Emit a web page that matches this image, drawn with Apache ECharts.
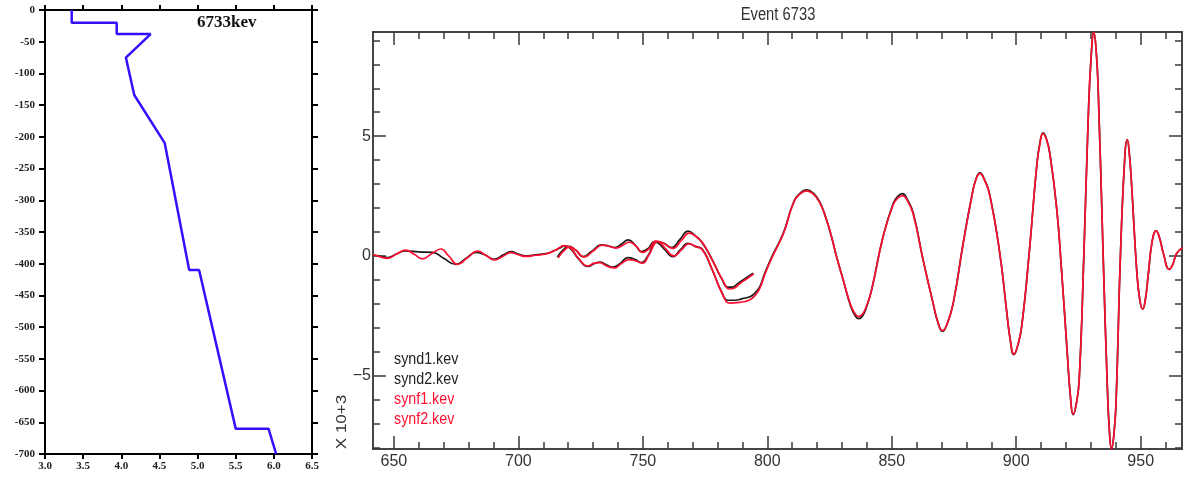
<!DOCTYPE html>
<html>
<head>
<meta charset="utf-8">
<script src="https://cdn.jsdelivr.net/npm/echarts@6/dist/echarts.min.js"></script>
<style>
html,body{margin:0;padding:0;background:#fff;}
#c{width:1183px;height:477px;}
</style>
</head>
<body>
<div id="c"></div>
<script>
// ---------- Left panel: velocity profile ----------
const profileVel   = [3.35, 3.35, 3.94, 3.94, 4.385, 4.06, 4.17, 4.57, 4.89, 5.02, 5.50, 5.93, 6.03];
const profileDepth = [0,   -20,  -20,  -38,  -38,   -75,  -134, -210, -410, -410, -660, -660, -700];
const profileTitle = '6733kev';
const velTicks = [3.0, 3.5, 4.0, 4.5, 5.0, 5.5, 6.0, 6.5];

// ---------- Right panel: seismograms ----------
const traceTitle = 'Event 6733';
const traceNames = ['synd1.kev', 'synd2.kev', 'synf1.kev', 'synf2.kev'];
const traceColors = ['#1a1a1a', '#1a1a1a', '#ff1030', '#ff1030'];
const timeLabels = [650, 700, 750, 800, 850, 900, 950];
const ampLabels = [-5, 0, 5];
const ampUnit = 'X 10+3';

const synd1 = [[641.6,0.04],[644,0.0],[647.5,-0.07],[651,0.08],[654.8,0.21],[660,0.17],[665.5,0.15],[670,-0.1],[674.9,-0.35],[679,-0.1],[683,0.15],[686.5,0.05],[690.4,-0.14],[694,0.05],[697,0.18],[700,0.08],[703,0.0],[707,0.05],[711,0.1],[714,0.2],[716.5,0.32],[718.6,0.42],[721,0.3],[724,-0.1],[728,-0.44],[730.5,-0.32],[732.7,-0.26],[735.5,-0.38],[738,-0.47],[741,-0.3],[744,-0.07],[747,-0.15],[749.4,-0.28],[752,0.0],[755.5,0.57],[758.5,0.3],[762.1,-0.03],[765,0.25],[768.2,0.53],[771,0.4],[773.5,0.32],[777.6,-0.51],[781.6,-1.49],[784.2,-1.85],[787,-1.85],[790,-1.78],[793,-1.7],[795,-1.55],[797,-1.28],[799,-0.72],[802,0.0],[806.4,0.94],[810.4,2.2],[813,2.6],[815.8,2.76],[818.5,2.62],[821.1,2.25],[823.5,1.6],[825.8,0.8],[828,-0.1],[830.5,-1.0],[833.5,-2.1],[835.3,-2.5],[836.8,-2.62],[838.3,-2.5],[839.8,-2.15],[841.9,-1.42],[846.5,0.8],[850.6,2.2],[852.5,2.5],[854.3,2.6],[856.3,2.35],[858.6,1.8],[862.6,-0.17],[866.6,-1.97],[868.6,-2.8],[870.4,-3.15],[872.4,-2.8],[874.7,-1.97],[878.7,0.53],[882.1,2.47],[883.8,3.2],[885.4,3.47],[887.2,3.2],[889.4,2.55],[893.4,0.11],[896.1,-2.25],[897.6,-3.5],[899.1,-4.12],[900.6,-3.75],[902.2,-2.94],[905.2,0.11],[908.2,3.72],[909.5,4.7],[910.8,5.14],[912.1,4.9],[913.5,4.28],[916.2,2.05],[918.2,-0.58],[920.5,-4.05],[921.8,-5.9],[922.9,-6.63],[924.1,-6.2],[925.3,-5.17],[927.2,0.11],[928.9,5.67],[930.1,8.3],[931.2,9.3],[932.1,8.6],[932.9,7.05],[934.9,0.11],[936.6,-5.44],[937.5,-7.4],[938.3,-8.05],[939.2,-7.5],[940.1,-6.14],[941.9,0.11],[943.7,4.28],[944.6,4.86],[945.5,4.2],[946.4,2.89],[948.4,-0.58],[949.6,-1.8],[950.8,-2.22],[951.9,-1.8],[953.1,-0.72],[954.6,0.6],[956.2,1.05],[957.6,0.75],[959.1,0.11],[961.5,-0.56],[962.9,-0.35],[964.5,0.11],[967,0.35]];

const synd2 = [[715.7,-0.05],[718,0.25],[720.3,0.4],[723,0.25],[726,-0.03],[729.5,0.2],[733.4,0.46],[736,0.42],[738.8,0.35],[741.5,0.5],[744.1,0.67],[747,0.45],[749.4,0.18],[752,0.3],[754.8,0.6],[758,0.55],[761.5,0.35],[765,0.7],[768.2,1.04],[771,0.85],[773.5,0.6],[777.6,-0.1],[781.6,-0.93],[784.2,-1.3],[786,-1.3],[788.3,-1.14],[791,-0.95],[794.3,-0.72]];

const synf1 = [[641.6,0.06],[644,-0.02],[647.5,-0.1],[651,0.08],[654.8,0.24],[658,0.08],[661.5,-0.12],[665,0.08],[668.9,0.29],[672,0.0],[675.6,-0.35],[679.5,-0.08],[683.6,0.2],[687,0.02],[690.4,-0.17],[694,0.0],[697,0.14],[700,0.05],[703,-0.02],[707,0.03],[711,0.08],[715,0.25],[718.5,0.43],[721,0.33],[724,-0.08],[728,-0.42],[730.5,-0.3],[732.7,-0.28],[735.5,-0.42],[738.5,-0.5],[741,-0.35],[744.5,-0.15],[747,-0.2],[749.8,-0.3],[752.5,0.05],[756,0.6],[759,0.32],[762.5,0.0],[765.5,0.25],[768.5,0.5],[771.5,0.38],[774,0.25],[778,-0.6],[782,-1.6],[785,-1.97],[788,-1.95],[791,-1.9],[793.5,-1.8],[795.5,-1.6],[797.3,-1.28],[799.2,-0.72],[802.2,0.0],[806.5,0.94],[810.4,2.18],[813,2.57],[815.8,2.72],[818.5,2.58],[821.1,2.22],[823.5,1.6],[825.8,0.8],[828,-0.1],[830.5,-1.0],[833.5,-2.05],[835.3,-2.42],[836.8,-2.53],[838.3,-2.42],[839.8,-2.1],[841.9,-1.42],[846.5,0.8],[850.6,2.15],[852.5,2.42],[854.3,2.52],[856.3,2.3],[858.6,1.75],[862.6,-0.17],[866.6,-1.97],[868.6,-2.78],[870.4,-3.12],[872.4,-2.78],[874.7,-1.97],[878.7,0.53],[882.1,2.45],[883.8,3.18],[885.4,3.44],[887.2,3.18],[889.4,2.52],[893.4,0.11],[896.1,-2.25],[897.6,-3.5],[899.1,-4.1],[900.6,-3.73],[902.2,-2.94],[905.2,0.11],[908.2,3.72],[909.5,4.68],[910.8,5.11],[912.1,4.88],[913.5,4.28],[916.2,2.05],[918.2,-0.58],[920.5,-4.05],[921.8,-5.88],[922.9,-6.6],[924.1,-6.2],[925.3,-5.17],[927.2,0.11],[928.9,5.67],[930.1,8.35],[931.2,9.35],[932.1,8.6],[932.9,7.05],[934.9,0.11],[936.6,-5.44],[937.5,-7.42],[938.3,-8.08],[939.2,-7.5],[940.1,-6.14],[941.9,0.11],[943.7,4.28],[944.6,4.86],[945.5,4.2],[946.4,2.89],[948.4,-0.58],[949.6,-1.8],[950.8,-2.22],[951.9,-1.8],[953.1,-0.72],[954.6,0.6],[956.2,1.05],[957.6,0.75],[959.1,0.11],[961.5,-0.56],[962.9,-0.35],[964.5,0.11],[967,0.35]];

const synf2 = [[716,-0.08],[718.3,0.22],[720.6,0.38],[723.3,0.22],[726.4,-0.05],[730,0.2],[733.8,0.45],[736.5,0.4],[739.2,0.33],[742,0.45],[744.6,0.58],[747.4,0.4],[749.8,0.15],[752.5,0.3],[755.3,0.62],[758.5,0.52],[762,0.32],[765.5,0.65],[768.6,0.95],[771.5,0.8],[774,0.55],[778,-0.2],[782,-1.0],[784.8,-1.38],[786.6,-1.35],[789,-1.15],[791.5,-0.97],[794.6,-0.75]];

const traces = [synd1, synd2, synf1, synf2];

// ---------- build ----------
const SANS = "'Liberation Sans',Arial,sans-serif";
const SERIF = "'Liberation Serif','DejaVu Serif',serif";
const X0 = 641.6, X1 = 966.6, Y0 = -8.06, Y1 = 9.35;

function range(a, b, s) { const r = []; for (let v = a; v <= b + 1e-9; v += s) r.push(+v.toFixed(6)); return r; }
const timeMinor = range(650, 960, 10).filter(v => timeLabels.indexOf(v) < 0);
const ampMinor = range(-8, 9, 1).filter(v => ampLabels.indexOf(v) < 0);

const frame = '#3a3a3a';
function rX(pos, custom, len, labels) {
  return {
    type: 'value', gridIndex: 1, position: pos, min: X0, max: X1,
    axisLine: { show: true, onZero: false, lineStyle: { color: frame, width: 1.5 } },
    axisTick: { show: true, inside: true, length: len, customValues: custom, lineStyle: { color: frame, width: 1.5 } },
    axisLabel: labels ? { show: true, customValues: timeLabels, margin: 5, fontFamily: SANS, fontSize: 16, color: '#333' } : { show: false },
    splitLine: { show: false }
  };
}
function rY(pos, custom, len, labels) {
  return {
    type: 'value', gridIndex: 1, position: pos, min: Y0, max: Y1,
    axisLine: { show: true, onZero: false, lineStyle: { color: frame, width: 1.5 } },
    axisTick: { show: true, inside: true, length: len, customValues: custom, lineStyle: { color: frame, width: 1.5 } },
    axisLabel: labels ? { show: true, customValues: ampLabels, margin: 2, fontFamily: SANS, fontSize: 16, color: '#333',
      formatter: v => (v < 0 ? '\u2212' + Math.abs(v) : String(v)) } : { show: false },
    splitLine: { show: false }
  };
}
function lX(pos, labels) {
  return {
    type: 'value', gridIndex: 0, position: pos, min: 3.0, max: 6.5, interval: 0.5,
    axisLine: { show: true, onZero: false, lineStyle: { color: '#000', width: 2 } },
    axisTick: { show: true, inside: false, length: 5, lineStyle: { color: '#000', width: 2 } },
    axisLabel: labels ? { show: true, margin: 7, fontFamily: SERIF, fontSize: 11, fontWeight: 'bold', color: '#222',
      formatter: v => v.toFixed(1) } : { show: false },
    splitLine: { show: false }
  };
}
function lY(pos, labels) {
  return {
    type: 'value', gridIndex: 0, position: pos, min: -700, max: 0, interval: 50,
    axisLine: { show: true, onZero: false, lineStyle: { color: '#000', width: 2 } },
    axisTick: { show: true, inside: false, length: 6, lineStyle: { color: '#000', width: 2 } },
    axisLabel: labels ? { show: true, margin: 10, fontFamily: SERIF, fontSize: 11, fontWeight: 'bold', color: '#222' } : { show: false },
    splitLine: { show: false }
  };
}

const series = [{
  type: 'line', xAxisIndex: 0, yAxisIndex: 0,
  data: profileVel.map((v, i) => [v, profileDepth[i]]),
  showSymbol: false, lineStyle: { color: '#3311ff', width: 2.5 }, animation: false
}];
traces.forEach((t, i) => {
  series.push({
    name: traceNames[i], type: 'line', xAxisIndex: 2, yAxisIndex: 2,
    data: t, showSymbol: false, smooth: 0.5,
    lineStyle: { color: traceColors[i], width: 1.7 }, animation: false, z: 2 + (i >= 2 ? 1 : 0)
  });
});

const graphics = [
  { type: 'text', left: 197, top: 14, style: { text: profileTitle, font: "bold 17px " + SERIF, fill: '#111' } },
  { type: 'text', x: 778, y: 15, scaleX: 0.82, style: { text: traceTitle, font: "18px " + SANS, fill: '#333', align: 'center', verticalAlign: 'middle' } },
  { type: 'text', x: 342, y: 422, rotation: Math.PI / 2, scaleY: 0.85, style: { text: ampUnit, font: "17px " + SANS, fill: '#333', align: 'center', verticalAlign: 'middle' } }
];
traceNames.forEach((n, i) => {
  graphics.push({ type: 'text', x: 394, y: 359 + i * 20, scaleX: 0.84, style: { text: n, font: "17px " + SANS, fill: i < 2 ? '#222' : '#ff1030', verticalAlign: 'middle' } });
});

const option = {
  backgroundColor: '#fff',
  animation: false,
  grid: [
    { left: 45, top: 10, width: 267, height: 444 },
    { left: 373, top: 32, width: 809, height: 417 }
  ],
  xAxis: [
    lX('bottom', true), lX('top', false),
    rX('bottom', timeLabels, 13, true), rX('bottom', timeMinor, 7, false),
    rX('top', timeLabels, 13, false), rX('top', timeMinor, 7, false)
  ],
  yAxis: [
    lY('left', true), lY('right', false),
    rY('left', ampLabels, 13, true), rY('left', ampMinor, 7, false),
    rY('right', ampLabels, 13, false), rY('right', ampMinor, 7, false)
  ],
  series: series,
  graphic: graphics
};

const chart = echarts.init(document.getElementById('c'), null, { renderer: 'canvas' });
chart.setOption(option);
</script>
</body>
</html>
